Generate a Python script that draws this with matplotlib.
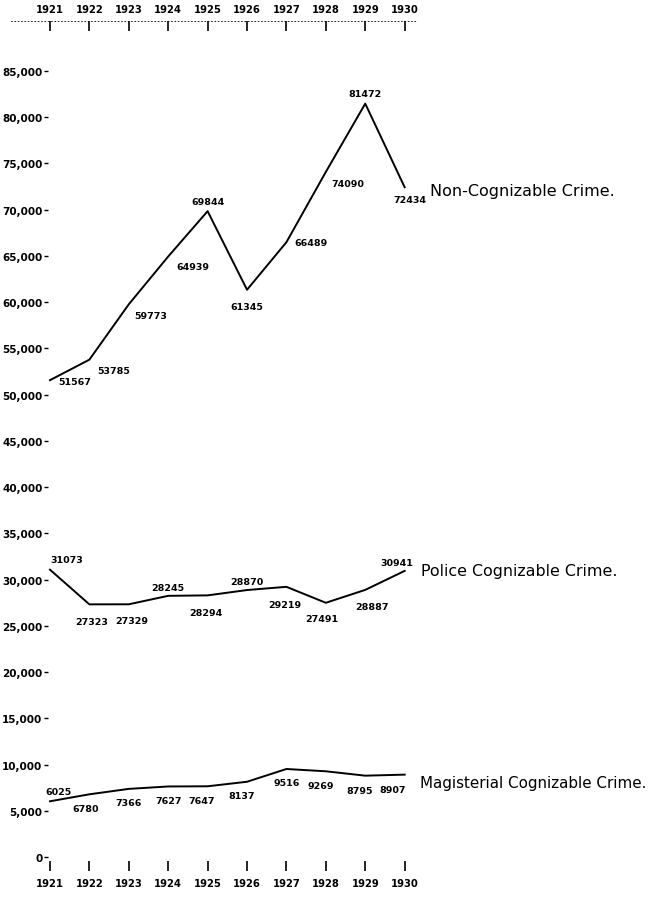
import numpy as np
import matplotlib as mpl
import matplotlib.pyplot as plt

mpl.rcParams.update({"font.family": "DejaVu Sans"})

years = [1921, 1922, 1923, 1924, 1925, 1926, 1927, 1928, 1929, 1930]
non_cog = [51567, 53785, 59773, 64939, 69844, 61345, 66489, 74090, 81472, 72434]
police = [31073, 27323, 27329, 28245, 28294, 28870, 29219, 27491, 28887, 30941]
magis = [6025, 6780, 7366, 7627, 7647, 8137, 9516, 9269, 8795, 8907]
yticks = list(range(0, 90000, 5000))

# label offsets (points) for each value label
off_non = [(6, -1), (6, -8), (4, -8), (6, -7), (0, 7), (0, -12), (6, 0), (4, -8), (0, 7), (4, -9)]
ha_non = ["left", "left", "left", "left", "center", "center", "left", "left", "center", "center"]
off_pol = [(0, 7), (2, -12), (2, -12), (0, 6), (-1, -12), (0, 6), (-1, -13), (-3, -11), (5, -12), (-6, 6)]
ha_pol = ["left"] + ["center"] * 9
off_mag = [(6, 7), (-3, -10), (0, -10), (0, -10), (-4, -10), (-4, -10), (0, -10), (-4, -10), (-4, -11), (-9, -11)]
ha_mag = ["center"] * 10

fig = plt.figure(figsize=(6.49, 9.03), dpi=100)
ax = fig.add_axes([48 / 649, 31 / 903, 1 - 48 / 649, 850 / 903])
ax.set_xlim(1920.95, 1936.2)
ax.set_ylim(-1515, 90411)

for vals, offs, has in [(non_cog, off_non, ha_non), (police, off_pol, ha_pol), (magis, off_mag, ha_mag)]:
    ax.plot(years, vals, color="black", lw=1.4, clip_on=False)
    for x, v, o, h in zip(years, vals, offs, has):
        ax.annotate(f"{v}", (x, v), xytext=o, textcoords="offset points",
                    ha=h, va="center", fontsize=6.8, fontweight="bold", clip_on=False)

ax.annotate("Non-Cognizable Crime.", (years[-1], non_cog[-1]), xytext=(18, -2),
            textcoords="offset points", ha="left", va="center", fontsize=11.5)
ax.annotate("Police Cognizable Crime.", (years[-1], police[-1]), xytext=(12, 0),
            textcoords="offset points", ha="left", va="center", fontsize=11.4)
ax.annotate("Magisterial Cognizable Crime.", (years[-1], magis[-1]), xytext=(11, -6),
            textcoords="offset points", ha="left", va="center", fontsize=10.9)

# axes styling: hand-drawn look, no frame
for s in ["left", "right", "bottom"]:
    ax.spines[s].set_visible(False)
ax.spines["top"].set_linestyle((0, (1, 3)))
ax.spines["top"].set_linewidth(0.6)
ax.spines["top"].set_bounds(1920.0, 1930.3)

ax.set_yticks(yticks)
ax.set_yticklabels(["0"] + [f"{v:,}" for v in yticks[1:]], fontsize=7.5, fontweight="bold")
ax.tick_params(axis="y", direction="out", length=3, width=1, pad=1)

ax.set_xticks(years)
ax.set_xticklabels([str(y) for y in years], fontsize=7.2, fontweight="bold")
ax.tick_params(axis="x", top=True, bottom=True, labeltop=True, labelbottom=True,
               direction="in", length=7, width=1.2, pad=5)

fig.savefig("out.png", dpi=100, facecolor="white")
